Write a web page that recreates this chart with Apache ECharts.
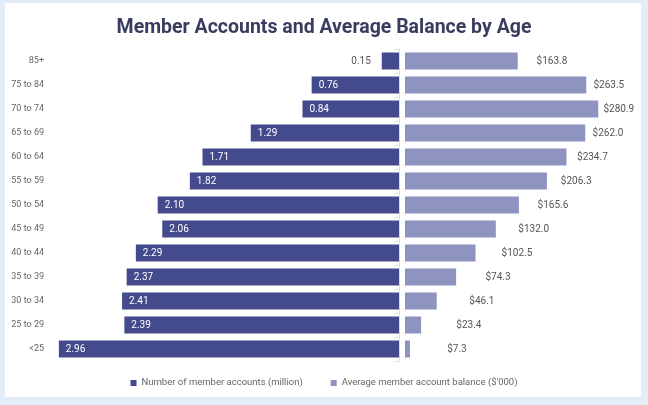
<!DOCTYPE html>
<html>
<head>
<meta charset="utf-8">
<script src="https://cdn.jsdelivr.net/npm/echarts@6/dist/echarts.min.js"></script>
<style>
  html, body { margin: 0; padding: 0; }
  body { width: 648px; height: 405px; background: #e4edf7; position: relative; overflow: hidden; }
  #panel { position: absolute; left: 5px; top: 3px; width: 636px; height: 394px; background: #ffffff; }
  #chart { position: absolute; left: 0; top: 0; width: 648px; height: 405px; }
</style>
</head>
<body>
<div id="panel"></div>
<div id="chart"></div>
<script>
const titleText = 'Member Accounts and Average Balance by Age';
const ageGroups = ['85+', '75 to 84', '70 to 74', '65 to 69', '60 to 64', '55 to 59', '50 to 54',
                   '45 to 49', '40 to 44', '35 to 39', '30 to 34', '25 to 29', '<25'];
const memberAccounts = [0.15, 0.76, 0.84, 1.29, 1.71, 1.82, 2.10, 2.06, 2.29, 2.37, 2.41, 2.39, 2.96];
const avgBalance = [163.8, 263.5, 280.9, 262.0, 234.7, 206.3, 165.6, 132.0, 102.5, 74.3, 46.1, 23.4, 7.3];
const seriesNames = ['Number of member accounts (million)', "Average member account balance ($'000)"];

const darkColor = '#444b8d';
const lightColor = '#8f93c0';
const textFont = 'Roboto, "Noto Sans", sans-serif';
const titleFont = 'Roboto, "Noto Sans", sans-serif';

const chart = echarts.init(document.getElementById('chart'), null, { renderer: 'canvas' });

const leftData = memberAccounts.map(v => {
  if (v < 0.5) {
    return { value: v, label: { position: 'left', color: '#555555', distance: 11 } };
  }
  return v;
});
const rightData = avgBalance.map(v => ({
  value: v,
  label: { distance: Math.max(2, 38 - 0.117 * v) }
}));

chart.setOption({
  animation: false,
  backgroundColor: 'transparent',
  title: {
    text: titleText,
    left: 'center',
    top: 13,
    textStyle: { fontFamily: titleFont, fontWeight: 'bold', fontSize: 19.5, color: '#383d5f' }
  },
  legend: {
    data: seriesNames,
    bottom: 12,
    left: 'center',
    icon: 'rect',
    itemWidth: 6,
    itemHeight: 6,
    itemGap: 28,
    textStyle: { fontFamily: textFont, fontSize: 9.5, color: '#666666' }
  },
  grid: [
    { left: 53, top: 49, width: 346, height: 312 },
    { left: 405, top: 49, width: 206.4, height: 312 }
  ],
  xAxis: [
    { type: 'value', gridIndex: 0, min: 0, max: 3.011, inverse: true, show: false },
    { type: 'value', gridIndex: 1, min: 0, max: 300, show: false }
  ],
  yAxis: [
    {
      type: 'category', gridIndex: 0, data: ageGroups, inverse: true,
      axisLine: { show: true, lineStyle: { color: '#dddddd' } },
      axisTick: { show: true, length: 4, lineStyle: { color: '#dddddd' } },
      axisLabel: { margin: 9, fontFamily: textFont, fontSize: 9, color: '#666666' }
    },
    {
      type: 'category', gridIndex: 1, data: ageGroups, inverse: true, show: false
    }
  ],
  series: [
    {
      name: seriesNames[0], type: 'bar', xAxisIndex: 0, yAxisIndex: 0,
      data: leftData, barWidth: 17, itemStyle: { color: darkColor },
      label: {
        show: true, position: 'insideLeft', distance: 7, color: '#ffffff',
        fontFamily: textFont, fontSize: 10,
        formatter: p => p.value.toFixed(2)
      }
    },
    {
      name: seriesNames[1], type: 'bar', xAxisIndex: 1, yAxisIndex: 1,
      data: rightData, barWidth: 17, itemStyle: { color: lightColor },
      label: {
        show: true, position: 'right', color: '#555555',
        fontFamily: textFont, fontSize: 10,
        formatter: p => '$' + p.value.toFixed(1)
      }
    }
  ]
});
</script>
</body>
</html>
